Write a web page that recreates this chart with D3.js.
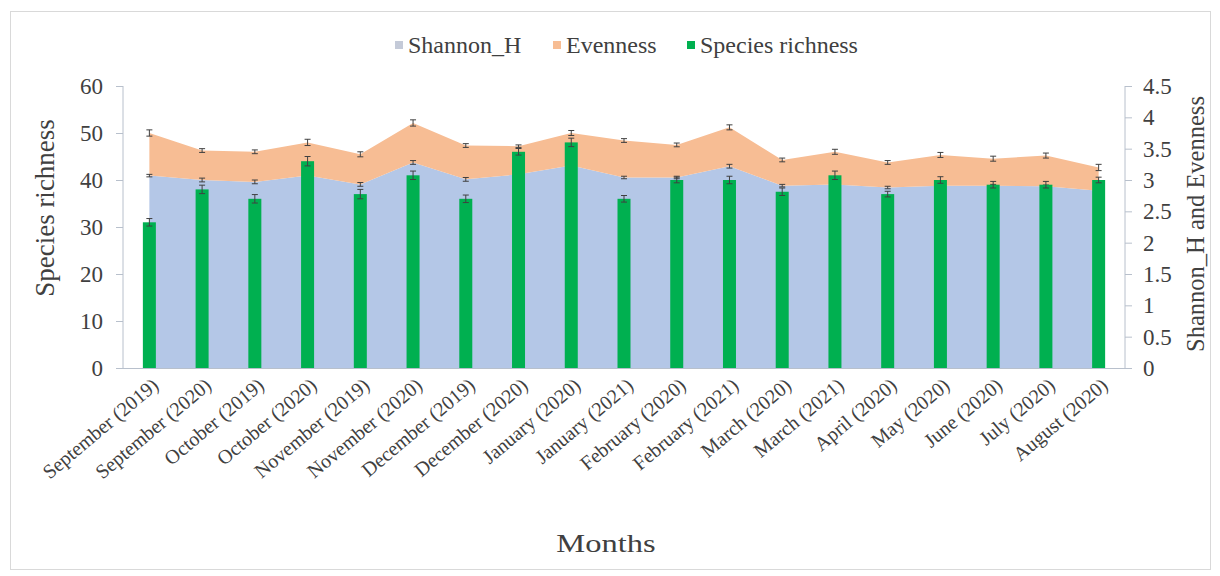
<!DOCTYPE html>
<html>
<head>
<meta charset="utf-8">
<script src="https://cdn.jsdelivr.net/npm/d3@7/dist/d3.min.js"></script>
<style>
  html, body { margin: 0; padding: 0; background: #fff; }
  svg text { font-family: "Times New Roman", "Liberation Serif", "DejaVu Serif", serif; }
</style>
</head>
<body>
<svg id="chart" width="1220" height="576"></svg>
<script>
// Sampling months (x categories)
const months = [
  "September (2019)", "September (2020)", "October (2019)", "October (2020)",
  "November (2019)", "November (2020)", "December (2019)", "December (2020)",
  "January (2020)", "January (2021)", "February (2020)", "February (2021)",
  "March (2020)", "March (2021)", "April (2020)", "May (2020)",
  "June (2020)", "July (2020)", "August (2020)"
];

// Species richness (bars, left axis) and its error
const richness    = [31, 38, 36, 44, 37, 41, 36, 46, 48, 36, 40, 40, 37.5, 41, 37, 40, 39, 39, 40];
const richnessErr = [0.8, 0.9, 0.9, 1.0, 1.0, 0.9, 0.8, 0.7, 0.9, 0.7, 0.6, 0.8, 0.8, 0.9, 0.6, 0.7, 0.7, 0.7, 0.6];

// Shannon_H and Evenness (stacked areas, right axis) and their errors
const shannon    = [3.07, 3.00, 2.97, 3.07, 2.93, 3.28, 3.01, 3.09, 3.23, 3.04, 3.04, 3.22, 2.91, 2.93, 2.88, 2.91, 2.91, 2.90, 2.83];
const shannonErr = [0.02, 0.03, 0.03, 0.03, 0.03, 0.03, 0.03, 0.02, 0.03, 0.02, 0.02, 0.03, 0.02, 0.02, 0.02, 0.02, 0.02, 0.02, 0.02];
const evenness    = [0.68, 0.47, 0.48, 0.53, 0.48, 0.63, 0.54, 0.45, 0.52, 0.59, 0.52, 0.62, 0.41, 0.52, 0.40, 0.49, 0.43, 0.49, 0.37];
const evennessErr = [0.05, 0.03, 0.03, 0.05, 0.04, 0.05, 0.03, 0.02, 0.04, 0.03, 0.03, 0.04, 0.03, 0.04, 0.03, 0.04, 0.04, 0.04, 0.05];

// Axis ticks
const leftTicks  = [0, 10, 20, 30, 40, 50, 60];
const rightTicks = [0, 0.5, 1, 1.5, 2, 2.5, 3, 3.5, 4, 4.5];

const colors = { shannon: "#b4c7e7", evenness: "#f7bd94", richness: "#00b050" };
const FONT = '"Times New Roman", "Liberation Serif", "DejaVu Serif", serif';

const svg = d3.select("#chart");

// Outer chart border
svg.append("rect")
  .attr("x", 10.5).attr("y", 11.5).attr("width", 1200).attr("height", 558)
  .attr("fill", "none").attr("stroke", "#d9d9d9").attr("stroke-width", 1);

const plot = { left: 123, right: 1125, top: 86, bottom: 368 };

const x = d3.scaleBand().domain(months).range([plot.left, plot.right]).padding(0);
const yL = d3.scaleLinear().domain([0, 60]).range([plot.bottom, plot.top]);
const yR = d3.scaleLinear().domain([0, 4.5]).range([plot.bottom, plot.top]);
const cx = m => x(m) + x.bandwidth() / 2;

// Stacked areas
const rows = months.map((m, i) => ({ m, h: shannon[i], e: evenness[i], hErr: shannonErr[i], eErr: evennessErr[i] }));

const areaShannon = d3.area()
  .x(d => cx(d.m)).y0(yR(0)).y1(d => yR(d.h));
const areaEven = d3.area()
  .x(d => cx(d.m)).y0(d => yR(d.h)).y1(d => yR(d.h + d.e));

svg.append("path").datum(rows).attr("d", areaShannon).attr("fill", colors.shannon);
svg.append("path").datum(rows).attr("d", areaEven).attr("fill", colors.evenness);

// Error bar helper
function errorBars(g, data, xf, yLo, yHi, cap) {
  const eb = g.selectAll(null).data(data).enter().append("g")
    .attr("stroke", "#404040").attr("stroke-width", 1);
  eb.append("line").attr("x1", xf).attr("x2", xf).attr("y1", yLo).attr("y2", yHi);
  eb.append("line").attr("x1", d => xf(d) - cap).attr("x2", d => xf(d) + cap).attr("y1", yLo).attr("y2", yLo);
  eb.append("line").attr("x1", d => xf(d) - cap).attr("x2", d => xf(d) + cap).attr("y1", yHi).attr("y2", yHi);
}

const gErr = svg.append("g");
errorBars(gErr, rows, d => cx(d.m), d => yR(d.h - d.hErr), d => yR(d.h + d.hErr), 3);
errorBars(gErr, rows, d => cx(d.m), d => yR(d.h + d.e - d.eErr), d => yR(d.h + d.e + d.eErr), 3);

// Species richness bars
const barW = 13;
const bars = months.map((m, i) => ({ m, v: richness[i], err: richnessErr[i] }));
svg.append("g").selectAll("rect").data(bars).enter().append("rect")
  .attr("x", d => cx(d.m) - barW / 2)
  .attr("width", barW)
  .attr("y", d => yL(d.v))
  .attr("height", d => yL(0) - yL(d.v))
  .attr("fill", colors.richness);
errorBars(svg.append("g"), bars, d => cx(d.m), d => yL(d.v - d.err), d => yL(d.v + d.err), 3);

// Axes
const axisColor = "#b8c0cc";
const textColor = "#404040";

const gL = svg.append("g").attr("transform", `translate(${plot.left},0)`)
  .call(d3.axisLeft(yL).tickValues(leftTicks).tickSize(7).tickPadding(13).tickFormat(d3.format("d")));
const gR = svg.append("g").attr("transform", `translate(${plot.right},0)`)
  .call(d3.axisRight(yR).tickValues(rightTicks).tickSize(7).tickPadding(11).tickFormat(d => String(d)));
[gL, gR].forEach(g => {
  g.attr("font-family", FONT);
  g.select(".domain").attr("stroke", axisColor)
    .attr("d", `M0,${plot.top}V${plot.bottom}`);
  g.selectAll(".tick line").attr("stroke", axisColor);
  g.selectAll(".tick text").attr("fill", textColor)
    .style("font-size", "23px").style("font-family", FONT);
});

// Category axis
svg.append("line")
  .attr("x1", plot.left).attr("x2", plot.right)
  .attr("y1", plot.bottom + 0.5).attr("y2", plot.bottom + 0.5)
  .attr("stroke", axisColor);

svg.append("g").selectAll("text").data(months).enter().append("text")
  .attr("transform", m => `translate(${cx(m) + 6},${plot.bottom + 14}) rotate(-40)`)
  .attr("text-anchor", "end")
  .attr("dy", "0.35em")
  .attr("fill", textColor)
  .style("font-size", "20px")
  .text(m => m);

// Axis titles
svg.append("text")
  .attr("transform", "translate(54,208) rotate(-90)")
  .attr("text-anchor", "middle").attr("fill", textColor)
  .style("font-size", "27px").text("Species richness");
svg.append("text")
  .attr("transform", "translate(1204,224) rotate(-90)")
  .attr("text-anchor", "middle").attr("fill", textColor)
  .style("font-size", "24.5px").text("Shannon_H and Evenness");
svg.append("text")
  .attr("transform", "translate(606,552) scale(1.3,1)")
  .attr("text-anchor", "middle").attr("fill", textColor)
  .style("font-size", "25px").text("Months");

// Legend
const legendItems = [
  { label: "Shannon_H", color: "#c4cad8", x: 395 },
  { label: "Evenness", color: colors.evenness, x: 553 },
  { label: "Species richness", color: colors.richness, x: 687 }
];
const lg = svg.append("g").selectAll("g").data(legendItems).enter().append("g")
  .attr("transform", d => `translate(${d.x},45)`);
lg.append("rect").attr("x", 0).attr("y", -4).attr("width", 8).attr("height", 8)
  .attr("fill", d => d.color);
lg.append("text").attr("x", 13).attr("dy", "0.35em").attr("fill", textColor)
  .style("font-size", "24px").text(d => d.label);
</script>
</body>
</html>
